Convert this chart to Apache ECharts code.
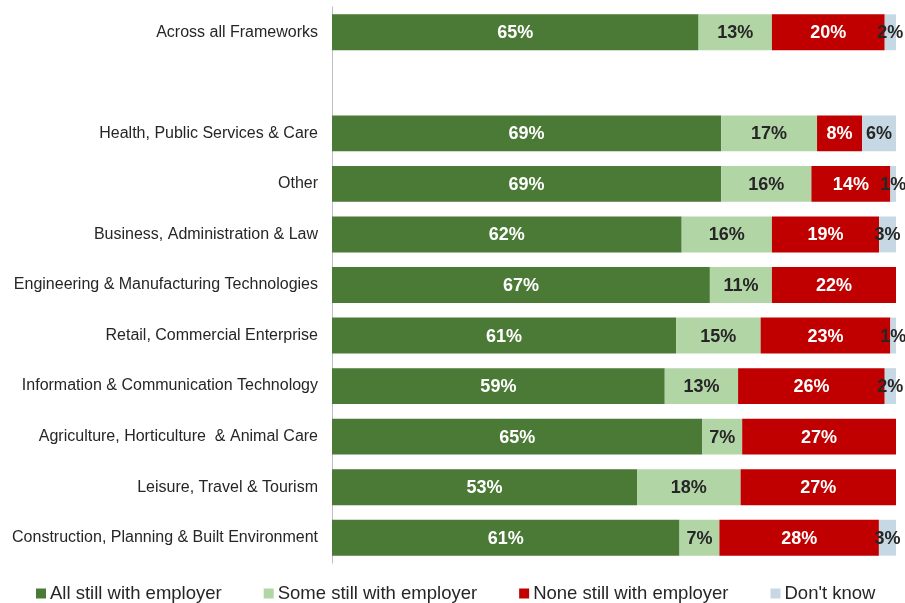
<!DOCTYPE html>
<html>
<head>
<meta charset="utf-8">
<script src="https://cdn.jsdelivr.net/npm/echarts@6/dist/echarts.min.js"></script>
<style>
html,body{margin:0;padding:0;background:#fff;}
#chart{width:905px;height:603px;}
</style>
</head>
<body>
<div id="chart"></div>
<script>
// Categories (empty string = spacer row)
const categories = [
  "Across all Frameworks",
  "",
  "Health, Public Services & Care",
  "Other",
  "Business, Administration & Law",
  "Engineering & Manufacturing Technologies",
  "Retail, Commercial Enterprise",
  "Information & Communication Technology",
  "Agriculture, Horticulture  & Animal Care",
  "Leisure, Travel & Tourism",
  "Construction, Planning & Built Environment"
];
const seriesNames = ["All still with employer", "Some still with employer", "None still with employer", "Don't know"];
const allStill  = [65, null, 69, 69, 62, 67, 61, 59, 65, 53, 61];
const someStill = [13, null, 17, 16, 16, 11, 15, 13, 7, 18, 7];
const noneStill = [20, null, 8, 14, 19, 22, 23, 26, 27, 27, 28];
const dontKnow  = [2, null, 6, 1, 3, null, 1, 2, null, null, 3];
const colors = ["#4a7a35", "#b2d5a6", "#c00000", "#c6d8e3"];
const labelColors = ["#ffffff", "#262626", "#ffffff", "#262626"];

const raw = [allStill, someStill, noneStill, dontKnow];
// 100% stacked: each row scaled to its total
const totals = categories.map((c, i) => raw.reduce((s, arr) => s + (arr[i] || 0), 0));

const FONT = "'Liberation Sans', Arial, sans-serif";

const series = raw.map((arr, k) => ({
  name: seriesNames[k],
  type: 'bar',
  stack: 'total',
  barCategoryGap: '29%',
  itemStyle: { color: colors[k] },
  label: {
    show: true,
    position: 'inside',
    offset: [0, 1],
    color: labelColors[k],
    fontFamily: FONT,
    fontWeight: 'bold',
    fontSize: 18,
    formatter: p => arr[p.dataIndex] == null ? '' : arr[p.dataIndex] + '%'
  },
  emphasis: { disabled: true },
  data: arr.map((v, i) => v == null ? null : v / totals[i] * 100)
}));

const chart = echarts.init(document.getElementById('chart'), null, { renderer: 'canvas' });
chart.setOption({
  animation: false,
  color: colors,
  grid: { left: 332, right: 9, top: 7, bottom: 40, containLabel: false },
  xAxis: { type: 'value', min: 0, max: 100, show: false },
  yAxis: {
    type: 'category',
    inverse: true,
    data: categories,
    axisLine: { show: true, lineStyle: { color: '#bfbfbf', width: 1 } },
    axisTick: { show: false },
    axisLabel: { color: '#262626', fontFamily: FONT, fontSize: 16, margin: 14 }
  },
  legend: {
    top: 584,
    left: 36,
    padding: 0,
    itemWidth: 10,
    itemHeight: 10,
    itemGap: 42,
    icon: 'rect',
    textStyle: { color: '#262626', fontFamily: FONT, fontSize: 18.5, padding: [0, 0, 0, -1] },
    data: seriesNames
  },
  series: series
});
</script>
</body>
</html>
